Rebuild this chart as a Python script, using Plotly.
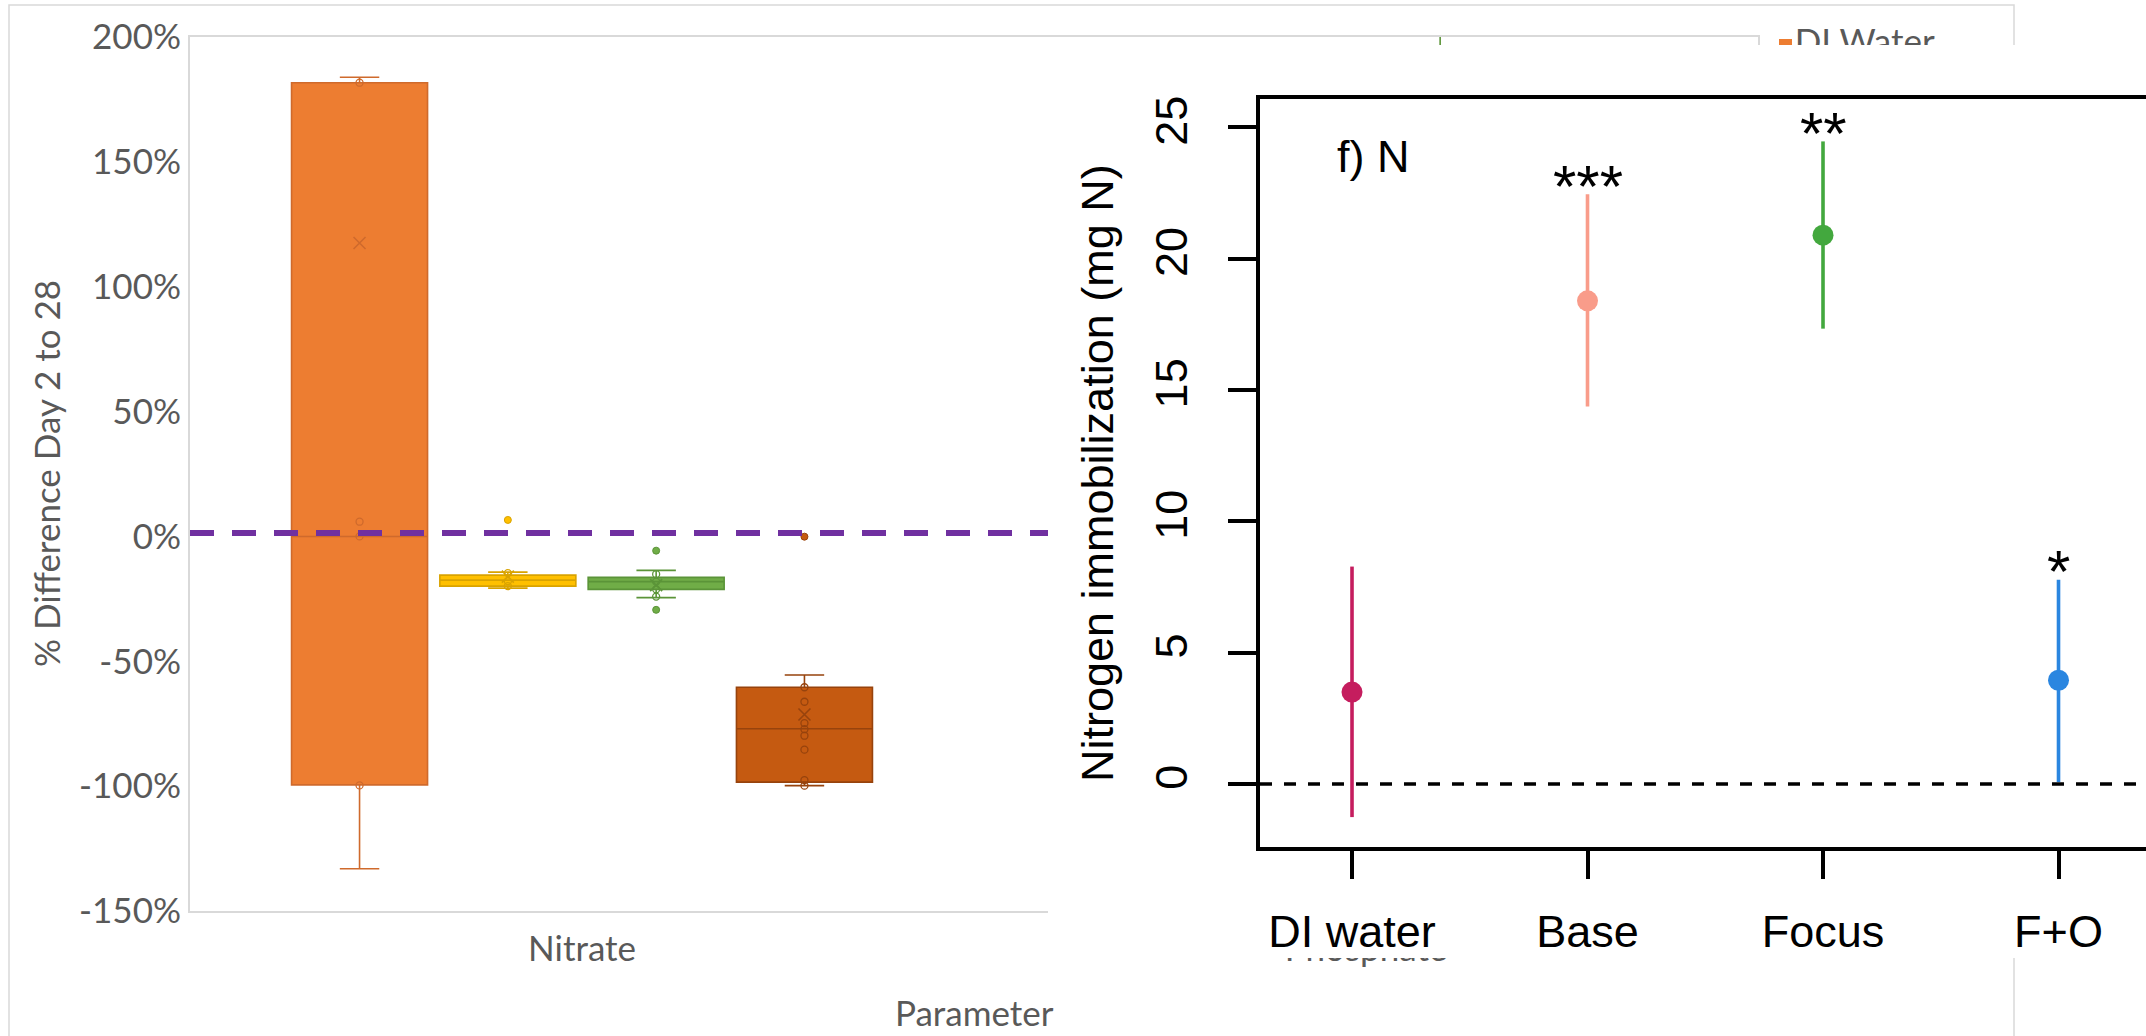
import plotly.graph_objects as go

W, H = 2146, 1036

# ---------------- Left panel: Excel box plot (Nitrate, % difference day 2 to 28) -------------
box_names = ["DI Water", "Base", "Focus", "F+O"]
box_q1 = [-99.5, -19.9, -21.2, -98.4]
box_median = [0.0, -17.5, -18.1, -77.0]
box_q3 = [181.7, -15.5, -16.4, -60.4]
box_lower = [-133.1, -20.7, -24.5, -99.8]
box_upper = [183.9, -14.3, -13.6, -55.5]
box_mean = [117.5, -16.1, -19.5, -71.3]
inner_points = [
    [181.7, 5.9, 0.0, -99.7],
    [-14.7, -17.9, -19.9],
    [-15.1, -18.1, -21.2, -24.1],
    [-60.4, -66.2, -74.8, -77.2, -79.8, -85.4, -97.6, -99.8],
]
outlier_points = [[], [6.6], [-5.7, -29.4], [-0.1]]
ref_line_value = 1.4  # purple dashed reference line (~0 %)
# Phosphate / Focus upper whisker: only the part running off the top of the axis is visible
phosphate_focus_whisker = [190.0, 230.0]

box_fill = ["#ED7D31", "#FFC000", "#70AD47", "#C55A11"]
box_edge = ["#CF6A2C", "#D9A300", "#5B9438", "#97430D"]

param_categories = ["Nitrate", "Phosphate"]
pct_tickvals = [-150, -100, -50, 0, 50, 100, 150, 200]
pct_ticktext = ["-150%", "-100%", "-50%", "0%", "50%", "100%", "150%", "200%"]
legend_label = "DI Water"

# ---------------- Right panel: R plot, nitrogen immobilization -------------------------------
treatments = ["DI water", "Base", "Focus", "F+O"]
n_immob = [3.5, 18.4, 20.9, 3.95]
ci_low = [-1.26, 14.38, 17.34, 0.08]
ci_high = [8.28, 22.46, 24.47, 7.78]
signif = ["", "***", "**", "*"]
r_colors = ["#C51D5E", "#F99C8A", "#43A83E", "#2A86E0"]
r_yticks = [0, 5, 10, 15, 20, 25]

# ---------------- geometry (pixels of the 2146x1036 canvas) ----------------------------------
EX_L, EX_R, EX_T, EX_B = 190, 1758, 37, 911          # Excel plot area
R_L, R_T, R_B = 1260, 99, 847                          # R plot box
OVER_L, OVER_T, OVER_B = 1048, 45, 958                 # pasted R image region
LEGEND_XY = (1785.5, 45.5)                             # Excel legend entry (marker centre)
SLOT = 148.3 / (EX_R - EX_L) * 2                       # group slot in category units
BOX_W = 136.0 / (EX_R - EX_L) * 2
X_RANGE_R = [0.6093, 4.3715]
Y_RANGE_R = [-2.399, 26.085]
GREY = "#595959"
XL_FONT = "Lato"
R_FONT = "Liberation Sans, Arial"

fig = go.Figure()

# Excel boxes
for i, name in enumerate(box_names):
    pos = 0 + (i - 1.5) * SLOT
    fig.add_trace(go.Box(
        x=[pos], q1=[box_q1[i]], median=[box_median[i]], q3=[box_q3[i]],
        lowerfence=[box_lower[i]], upperfence=[box_upper[i]],
        width=BOX_W, whiskerwidth=0.29, fillcolor=box_fill[i],
        line=dict(color=box_edge[i], width=1.6), boxpoints=False,
        name=name, showlegend=False, hoverinfo="skip", xaxis="x", yaxis="y"))
    fig.add_trace(go.Scatter(
        x=[pos] * len(inner_points[i]), y=inner_points[i], mode="markers",
        marker=dict(symbol="circle-open", size=7, color=box_edge[i], line=dict(width=1.3)),
        showlegend=False, hoverinfo="skip", xaxis="x", yaxis="y"))
    fig.add_trace(go.Scatter(
        x=[pos], y=[box_mean[i]], mode="markers",
        marker=dict(symbol="x-thin", size=12, line=dict(color=box_edge[i], width=1.6)),
        showlegend=False, hoverinfo="skip", xaxis="x", yaxis="y"))
    if outlier_points[i]:
        fig.add_trace(go.Scatter(
            x=[pos] * len(outlier_points[i]), y=outlier_points[i], mode="markers",
            marker=dict(symbol="circle", size=7, color=box_fill[i],
                        line=dict(color=box_edge[i], width=1)),
            showlegend=False, hoverinfo="skip", xaxis="x", yaxis="y"))

# Phosphate / Focus whisker peeking out above the pasted image
fig.add_trace(go.Scatter(
    x=[1 + (2 - 1.5) * SLOT] * 2, y=phosphate_focus_whisker, mode="lines",
    line=dict(color=box_edge[2], width=1.6),
    showlegend=False, hoverinfo="skip", xaxis="x", yaxis="y"))

# purple dashed reference line
fig.add_trace(go.Scatter(
    x=[-0.5, 1.5], y=[ref_line_value, ref_line_value], mode="lines",
    line=dict(color="#7030A0", width=6, dash="24px,18px"),
    showlegend=False, hoverinfo="skip", xaxis="x", yaxis="y"))

# Excel legend entry (only its top edge shows above the pasted image) - pixel canvas x2/y2
fig.add_trace(go.Scatter(
    x=[LEGEND_XY[0]], y=[LEGEND_XY[1]], mode="markers+text", text=[legend_label],
    textposition="middle right",
    textfont=dict(family=XL_FONT, size=35, color=GREY),
    marker=dict(symbol="square", size=13, color=box_fill[0]),
    showlegend=False, hoverinfo="skip", xaxis="x2", yaxis="y2"))

# white area of the pasted R figure (later subplot x3/y3 so it covers the Excel chart)
fig.add_trace(go.Scatter(
    x=[OVER_L, W, W, OVER_L], y=[OVER_T, OVER_T, OVER_B, OVER_B],
    fill="toself", fillcolor="white", mode="lines", line=dict(width=0),
    showlegend=False, hoverinfo="skip", xaxis="x3", yaxis="y3"))

# R panel: zero line, CIs and points (x4/y4)
fig.add_trace(go.Scatter(
    x=X_RANGE_R, y=[0, 0], mode="lines",
    line=dict(color="black", width=3.5, dash="12px,12px"),
    showlegend=False, hoverinfo="skip", xaxis="x4", yaxis="y4"))
for i, t in enumerate(treatments):
    fig.add_trace(go.Scatter(
        x=[i + 1], y=[n_immob[i]], mode="markers",
        marker=dict(size=21, color=r_colors[i]),
        error_y=dict(type="data", symmetric=False,
                     array=[ci_high[i] - n_immob[i]], arrayminus=[n_immob[i] - ci_low[i]],
                     color=r_colors[i], thickness=3.6, width=0),
        name=t, showlegend=False, hoverinfo="skip", xaxis="x4", yaxis="y4"))

annotations = [
    dict(text="% Difference Day 2 to 28", x=46 / W, y=(H - 474) / H, xref="paper", yref="paper",
         xanchor="center", yanchor="middle", textangle=-90, showarrow=False,
         font=dict(family=XL_FONT, size=35, color=GREY)),
    dict(text="Parameter", x=974 / W, y=(H - 1012) / H, xref="paper", yref="paper",
         xanchor="center", yanchor="middle", showarrow=False,
         font=dict(family=XL_FONT, size=35, color=GREY)),
    dict(text="Nitrogen immobilization (mg N)", x=1097 / W, y=(H - 473) / H,
         xref="paper", yref="paper", xanchor="center", yanchor="middle", textangle=-90,
         showarrow=False, font=dict(family=R_FONT, size=45, color="black")),
    dict(text="f) N", x=0.928, y=23.88, xref="x4", yref="y4", xanchor="left",
         yanchor="middle", showarrow=False, font=dict(family=R_FONT, size=45, color="black")),
]
for i, s in enumerate(signif):
    if s:
        annotations.append(dict(text=s, x=i + 1, y=ci_high[i], xref="x4", yref="y4",
                                xanchor="center", yanchor="middle", yshift=8, showarrow=False,
                                font=dict(family=R_FONT, size=60, color="black")))

shapes = [
    dict(type="rect", xref="paper", yref="paper", x0=9 / W, x1=2014 / W,
         y0=-0.1, y1=(H - 5) / H, line=dict(color="#D9D9D9", width=1.5), layer="below"),
]

canvas_x = dict(domain=[0, 1], range=[0, W], visible=False, automargin=False, fixedrange=True)
canvas_y = dict(domain=[0, 1], range=[H, 0], visible=False, automargin=False, fixedrange=True)

fig.update_layout(
    template="none",
    width=W, height=H, margin=dict(l=0, r=0, t=0, b=0, pad=0), autosize=False,
    paper_bgcolor="white", plot_bgcolor="rgba(0,0,0,0)", showlegend=False,
    annotations=annotations, shapes=shapes,
    xaxis=dict(domain=[EX_L / W, EX_R / W], range=[-0.5, 1.5], tickvals=[0, 1],
               ticktext=param_categories, showline=True, mirror=True, linecolor="#D9D9D9",
               linewidth=2, ticks="", showgrid=False, zeroline=False, anchor="y",
               automargin=False,
               tickfont=dict(family=XL_FONT, size=35, color=GREY), ticklabelstandoff=6),
    yaxis=dict(domain=[(H - EX_B) / H, (H - EX_T) / H], range=[-150, 200],
               tickvals=pct_tickvals, ticktext=pct_ticktext, showline=True, mirror=True,
               linecolor="#D9D9D9", linewidth=2, ticks="", showgrid=False, zeroline=False,
               anchor="x", automargin=False,
               tickfont=dict(family=XL_FONT, size=35, color=GREY), ticklabelstandoff=0),
    xaxis2=dict(canvas_x, anchor="y2"),
    yaxis2=dict(canvas_y, anchor="x2"),
    xaxis3=dict(canvas_x, anchor="y3"),
    yaxis3=dict(canvas_y, anchor="x3"),
    xaxis4=dict(domain=[R_L / W, 1], range=X_RANGE_R, tickvals=[1, 2, 3, 4],
                ticktext=treatments, ticks="outside", ticklen=28, tickwidth=4,
                tickcolor="black", showline=True, linecolor="black", linewidth=4,
                mirror=True, showgrid=False, zeroline=False, anchor="y4", automargin=False,
                ticklabelstandoff=14,
                tickfont=dict(family=R_FONT, size=45, color="black")),
    yaxis4=dict(domain=[(H - R_B) / H, (H - R_T) / H], range=Y_RANGE_R, tickvals=r_yticks,
                ticks="outside", ticklen=28, tickwidth=4, tickcolor="black",
                showline=True, linecolor="black", linewidth=4, mirror=False,
                showgrid=False, zeroline=False, anchor="x4", tickangle=-90, automargin=False,
                ticklabelstandoff=23,
                tickfont=dict(family=R_FONT, size=45, color="black")),
)

fig.write_html("out.html", config={"displayModeBar": False})
